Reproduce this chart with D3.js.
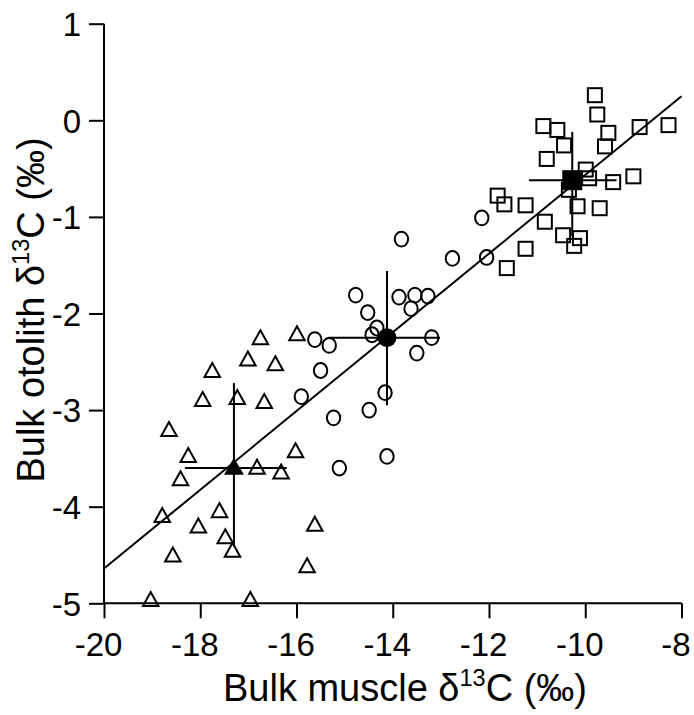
<!DOCTYPE html>
<html>
<head>
<meta charset="utf-8">
<script src="https://cdn.jsdelivr.net/npm/d3@7"></script>
<style>
  html, body { margin: 0; padding: 0; background: #fff; }
  svg { display: block; font-family: "Liberation Sans", Arial, Helvetica, sans-serif; }
</style>
</head>
<body>
<svg id="chart" width="694" height="715"></svg>
<script>
// ---- Data ----
const xTicks = [-20, -18, -16, -14, -12, -10, -8];
const yTicks = [1, 0, -1, -2, -3, -4, -5];

// Open triangles: [muscle, otolith]
const triangles = [
  [-16.75, -2.26], [-15.99, -2.22], [-17.01, -2.48], [-16.44, -2.53], [-17.75, -2.60],
  [-17.95, -2.90], [-17.23, -2.88], [-16.67, -2.92], [-18.65, -3.21], [-18.25, -3.48],
  [-16.02, -3.43], [-18.41, -3.72], [-16.82, -3.60], [-16.32, -3.65], [-18.79, -4.10],
  [-17.60, -4.05], [-18.04, -4.21], [-15.62, -4.19], [-17.48, -4.32], [-17.33, -4.46],
  [-18.57, -4.51], [-15.78, -4.62], [-19.03, -4.97], [-16.96, -4.97]
];
// Open circles
const circles = [
  [-12.15, -1.01], [-13.82, -1.23], [-12.76, -1.43], [-12.05, -1.42], [-14.77, -1.81],
  [-13.87, -1.83], [-13.54, -1.81], [-13.27, -1.82], [-13.62, -1.95], [-14.52, -1.99],
  [-14.33, -2.15], [-14.43, -2.22], [-13.19, -2.25], [-15.62, -2.27], [-15.32, -2.33],
  [-13.50, -2.41], [-15.50, -2.59], [-15.90, -2.86], [-14.16, -2.82], [-14.49, -3.00],
  [-15.23, -3.08], [-14.12, -3.48], [-15.11, -3.60]
];
// Open squares
const squares = [
  [-9.80, 0.26], [-9.75, 0.06], [-10.87, -0.06], [-10.58, -0.10], [-9.52, -0.13],
  [-8.87, -0.07], [-8.27, -0.05], [-9.59, -0.27], [-10.44, -0.26], [-10.80, -0.40],
  [-9.99, -0.51], [-9.92, -0.60], [-9.42, -0.64], [-9.00, -0.58], [-10.34, -0.72],
  [-11.82, -0.78], [-11.68, -0.87], [-11.24, -0.88], [-10.16, -0.89], [-9.70, -0.91],
  [-10.84, -1.05], [-10.46, -1.19], [-10.11, -1.22], [-10.23, -1.30], [-11.24, -1.33],
  [-11.63, -1.53]
];

// Group means with error ranges: [meanX, meanY, xLow, xHigh, yLow, yHigh]
const meanTriangle = [-17.30, -3.60, -18.32, -16.20, -4.41, -2.72];
const meanCircle   = [-14.12, -2.25, -15.33, -13.02, -2.95, -1.56];
const meanSquare   = [-10.27, -0.62, -11.17, -9.35, -1.20, -0.12];

// Regression line: otolith = intercept + slope * muscle
const regSlope = 0.4075;
const regIntercept = -4.64 + 0.4075 * 20;
const regRange = [-20, -8];

// ---- Layout ----
const svg = d3.select("#chart");
const W = 694, H = 715;
const x = d3.scaleLinear().domain([-20, -8]).range([104, 681.5]);
const y = d3.scaleLinear().domain([-5, 1]).range([603.3, 23.7]);

const tickFont = 33;
const titleFont = 38;
const fmt = d => String(d).replace("−", "-");

// Axes
const xAxis = svg.append("g")
  .attr("transform", `translate(0,${y(-5)})`)
  .call(d3.axisBottom(x).tickValues(xTicks).tickSize(15).tickPadding(14).tickFormat(fmt));
const yAxis = svg.append("g")
  .attr("transform", `translate(${x(-20)},0)`)
  .call(d3.axisLeft(y).tickValues(yTicks).tickSize(15).tickPadding(8).tickFormat(fmt));

[xAxis, yAxis].forEach(g => {
  g.select(".domain").attr("stroke", "#000").attr("stroke-width", 2);
  g.selectAll(".tick line").attr("stroke", "#000").attr("stroke-width", 2);
  g.selectAll(".tick text").attr("font-size", tickFont).attr("fill", "#000")
    .attr("font-family", "'Liberation Sans', Arial, sans-serif");
});
xAxis.select(".domain").attr("d", `M${x(-20)},0H${x(-8)}`);
yAxis.select(".domain").attr("d", `M0,${y(1)}V${y(-5)}`);
xAxis.selectAll(".tick text").attr("dy", "0.71em").attr("dx", -6);
yAxis.selectAll(".tick text").attr("dy", "0.36em");

// Axis titles
const xTitle = svg.append("text")
  .attr("x", 405).attr("y", 701)
  .attr("text-anchor", "middle").attr("font-size", titleFont).attr("fill", "#000");
xTitle.append("tspan").text("Bulk muscle δ");
xTitle.append("tspan").attr("font-size", titleFont * 0.62).attr("dy", -15).text("13");
xTitle.append("tspan").attr("dy", 15).text("C (‰)");

const yTitle = svg.append("text")
  .attr("transform", `translate(44,${310}) rotate(-90)`)
  .attr("text-anchor", "middle").attr("font-size", titleFont).attr("fill", "#000");
yTitle.append("tspan").text("Bulk otolith δ");
yTitle.append("tspan").attr("font-size", titleFont * 0.62).attr("dy", -15).text("13");
yTitle.append("tspan").attr("dy", 15).text("C (‰)");

// Regression line
const plot = svg.append("g");
plot.append("line")
  .attr("x1", x(regRange[0])).attr("y1", y(regIntercept + regSlope * regRange[0]))
  .attr("x2", x(regRange[1])).attr("y2", y(regIntercept + regSlope * regRange[1]))
  .attr("stroke", "#000").attr("stroke-width", 2);

// Error bars
[meanTriangle, meanCircle, meanSquare].forEach(m => {
  plot.append("line").attr("x1", x(m[2])).attr("x2", x(m[3]))
    .attr("y1", y(m[1])).attr("y2", y(m[1]))
    .attr("stroke", "#000").attr("stroke-width", 2);
  plot.append("line").attr("x1", x(m[0])).attr("x2", x(m[0]))
    .attr("y1", y(m[4])).attr("y2", y(m[5]))
    .attr("stroke", "#000").attr("stroke-width", 2);
});

function triPath(cx, cy, w, h) {
  return `M${cx},${cy - h * 0.6}L${cx + w / 2},${cy + h * 0.4}L${cx - w / 2},${cy + h * 0.4}Z`;
}

// Open triangles
plot.selectAll(".tri").data(triangles).join("path")
  .attr("d", d => triPath(x(d[0]), y(d[1]), 15.5, 14))
  .attr("fill", "none").attr("stroke", "#000").attr("stroke-width", 2)
  .attr("stroke-linejoin", "miter");

// Open circles
plot.selectAll(".cir").data(circles).join("ellipse")
  .attr("cx", d => x(d[0])).attr("cy", d => y(d[1]))
  .attr("rx", 6.7).attr("ry", 7.4)
  .attr("fill", "none").attr("stroke", "#000").attr("stroke-width", 2);

// Open squares
const sq = 14;
plot.selectAll(".sqr").data(squares).join("rect")
  .attr("x", d => x(d[0]) - sq / 2).attr("y", d => y(d[1]) - sq / 2)
  .attr("width", sq).attr("height", sq)
  .attr("fill", "none").attr("stroke", "#000").attr("stroke-width", 2);

// Filled means
plot.append("path")
  .attr("d", triPath(x(meanTriangle[0]), y(meanTriangle[1]), 20, 17))
  .attr("fill", "#000");
plot.append("circle")
  .attr("cx", x(meanCircle[0])).attr("cy", y(meanCircle[1])).attr("r", 9.5)
  .attr("fill", "#000");
const fsq = 20;
plot.append("rect")
  .attr("x", x(meanSquare[0]) - fsq / 2).attr("y", y(meanSquare[1]) - fsq / 2)
  .attr("width", fsq).attr("height", fsq).attr("fill", "#000");
</script>
</body>
</html>
